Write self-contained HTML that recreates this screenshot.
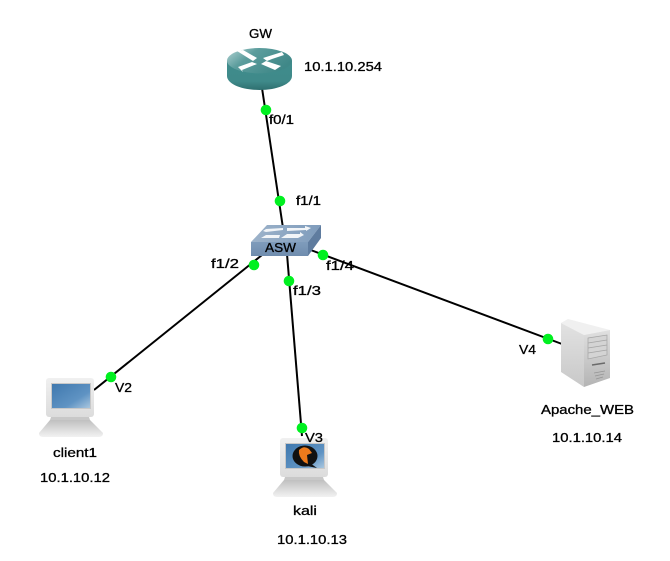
<!DOCTYPE html>
<html><head><meta charset="utf-8"><style>
html,body{margin:0;padding:0;background:#fff;width:670px;height:561px;overflow:hidden}
svg{display:block}
text{font-family:"Liberation Sans",sans-serif;font-size:13px;fill:#000;stroke:#000;stroke-width:.3px}
</style></head><body>
<svg width="670" height="561" viewBox="0 0 670 561" xmlns="http://www.w3.org/2000/svg">
<defs>
<linearGradient id="rt" x1="0" y1="0" x2="1" y2="0.5"><stop offset="0" stop-color="#b5d5d5"/><stop offset="0.4" stop-color="#5c9d9d"/><stop offset="1" stop-color="#3f8888"/></linearGradient>
<linearGradient id="rb" x1="0" y1="0" x2="0" y2="1"><stop offset="0" stop-color="#3f8c8c"/><stop offset="0.7" stop-color="#3f8a8a"/><stop offset="1" stop-color="#2e6f6f"/></linearGradient>
<linearGradient id="sf" x1="0" y1="0" x2="0" y2="1"><stop offset="0" stop-color="#7f9cbc"/><stop offset="1" stop-color="#6f8cae"/></linearGradient>
<linearGradient id="st" x1="0" y1="0" x2="1" y2="0"><stop offset="0" stop-color="#9db3ca"/><stop offset="1" stop-color="#7f9cbc"/></linearGradient>
<linearGradient id="mon" x1="0" y1="0" x2="0" y2="1"><stop offset="0" stop-color="#f0f0f0"/><stop offset="1" stop-color="#dcdcdc"/></linearGradient>
<linearGradient id="base" x1="0" y1="0" x2="0" y2="1"><stop offset="0" stop-color="#c0c0c0"/><stop offset="1" stop-color="#f2f2f2"/></linearGradient>
<linearGradient id="scr" x1="0" y1="0" x2="1" y2="1"><stop offset="0" stop-color="#3f78ae"/><stop offset="0.65" stop-color="#5f93c3"/><stop offset="1" stop-color="#a9c6df"/></linearGradient>
<linearGradient id="srvl" x1="0" y1="0" x2="0" y2="1"><stop offset="0" stop-color="#e2e2e2"/><stop offset="1" stop-color="#c8c8c8"/></linearGradient>
<linearGradient id="srvr" x1="0" y1="0" x2="0" y2="1"><stop offset="0" stop-color="#e0e0e0"/><stop offset="1" stop-color="#b4b4b4"/></linearGradient>
<g id="laptop">
<rect x="46" y="378" width="48" height="39" rx="3" fill="url(#mon)"/>
<path d="M51 417H89L90 420H50Z" fill="#c8c8c8"/>
<path d="M50 420H90L103 433Q103 437 99 437H43Q39 437 39 433Z" fill="url(#base)"/>
<rect x="51" y="383" width="40" height="26" fill="#c8c8c8"/>
<rect x="52" y="384" width="38" height="24" fill="url(#scr)"/>
</g>
</defs>

<g stroke="#000" stroke-width="2" fill="none">
<line x1="262" y1="88" x2="283" y2="228"/>
<line x1="262" y1="255" x2="94" y2="390"/>
<line x1="287" y1="254" x2="302" y2="436"/>
<line x1="308" y1="249" x2="562" y2="344"/>
</g>

<!-- router -->
<path d="M227 61V76C227 84 242 90 259.500 90S292 84 292 76V61Z" fill="url(#rb)"/>
<ellipse cx="259.500" cy="60.700" rx="32.500" ry="12.700" fill="url(#rt)"/>
<g fill="#fff">
<path d="M237 51L243 50L257 58L253 61Z"/>
<path d="M282 52L263 58L267 61L272 59L284 55Z"/>
<path d="M238 67L252 62L257 64L242 70L243 72Z"/>
<path d="M261 64L266 61L281 66L275 70Z"/>
</g>

<!-- switch -->
<path d="M251 242L267 225H321L308 242Z" fill="url(#st)"/>
<path d="M308 242L321 225V238L308 256Z" fill="#5f7c9f"/>
<rect x="251" y="242" width="57" height="14" fill="url(#sf)"/>
<g fill="#f2f5f8">
<path d="M266 232L283 230V228L266 229L263 231Z"/>
<path d="M287 228H305V226L311 228L306 231V230L287 231Z"/>
<path d="M261 238L266 235H280L279 238H266Z"/>
<path d="M281 238L287 234H300V232L304 235L298 238Z"/>
</g>

<!-- laptops -->
<use href="#laptop"/>
<use href="#laptop" x="234" y="60"/>
<ellipse cx="305" cy="456" rx="12.500" ry="10.500" fill="#111"/>
<path d="M299 450Q304 445 309 449L312 453L307 455L308 464L304 462Q298 456 299 450Z" fill="#ec7a1c"/>
<path d="M310 463L317 468L307 466Z" fill="#111"/>

<!-- server -->
<path d="M561 323L568 319L610 330L584 335Z" fill="#f0f0f0"/>
<path d="M561 323L584 335V387L561 372Z" fill="url(#srvl)"/>
<path d="M584 335L610 330V378L584 387Z" fill="url(#srvr)"/>
<path d="M588 338L607 335V355L588 359Z" fill="#d4d4d4" stroke="#a4a4a4" stroke-width=".7"/>
<path d="M588 343L607 340M588 348L607 345M588 353L607 350" stroke="#a4a4a4" stroke-width=".7"/>
<path d="M592 365L605 363" stroke="#6a6a6a" stroke-width="1.500"/>
<path d="M594 373L605 371M595 376L604 374M596 379L603 377" stroke="#959595" stroke-width=".8"/>

<!-- dots -->
<g fill="#00f020">
<circle cx="266" cy="110" r="5.300"/>
<circle cx="280" cy="201" r="5.300"/>
<circle cx="254" cy="265" r="5.300"/>
<circle cx="289" cy="281" r="5.300"/>
<circle cx="323" cy="255" r="5.300"/>
<circle cx="111" cy="377" r="5.300"/>
<circle cx="302" cy="428" r="5.300"/>
<circle cx="548" cy="339" r="5.300"/>
</g>

<!-- labels -->
<text x="249" y="38" textLength="23" lengthAdjust="spacingAndGlyphs">GW</text>
<text x="304" y="71" textLength="78" lengthAdjust="spacingAndGlyphs">10.1.10.254</text>
<text x="269" y="124" textLength="25" lengthAdjust="spacingAndGlyphs">f0/1</text>
<text x="296" y="205" textLength="25" lengthAdjust="spacingAndGlyphs">f1/1</text>
<text x="265" y="252" textLength="31" lengthAdjust="spacingAndGlyphs">ASW</text>
<text x="211" y="268" textLength="28" lengthAdjust="spacingAndGlyphs">f1/2</text>
<text x="326" y="270" textLength="28" lengthAdjust="spacingAndGlyphs">f1/4</text>
<text x="293" y="295" textLength="28" lengthAdjust="spacingAndGlyphs">f1/3</text>
<text x="115" y="392" textLength="17" lengthAdjust="spacingAndGlyphs">V2</text>
<text x="53" y="457" textLength="44" lengthAdjust="spacingAndGlyphs">client1</text>
<text x="40" y="482" textLength="70" lengthAdjust="spacingAndGlyphs">10.1.10.12</text>
<text x="305" y="442" textLength="18" lengthAdjust="spacingAndGlyphs">V3</text>
<text x="293" y="515" textLength="24" lengthAdjust="spacingAndGlyphs">kali</text>
<text x="277" y="544" textLength="70" lengthAdjust="spacingAndGlyphs">10.1.10.13</text>
<text x="519" y="354" textLength="17" lengthAdjust="spacingAndGlyphs">V4</text>
<text x="541" y="414" textLength="93" lengthAdjust="spacingAndGlyphs">Apache_WEB</text>
<text x="552" y="442" textLength="70" lengthAdjust="spacingAndGlyphs">10.1.10.14</text>
</svg>
</body></html>
